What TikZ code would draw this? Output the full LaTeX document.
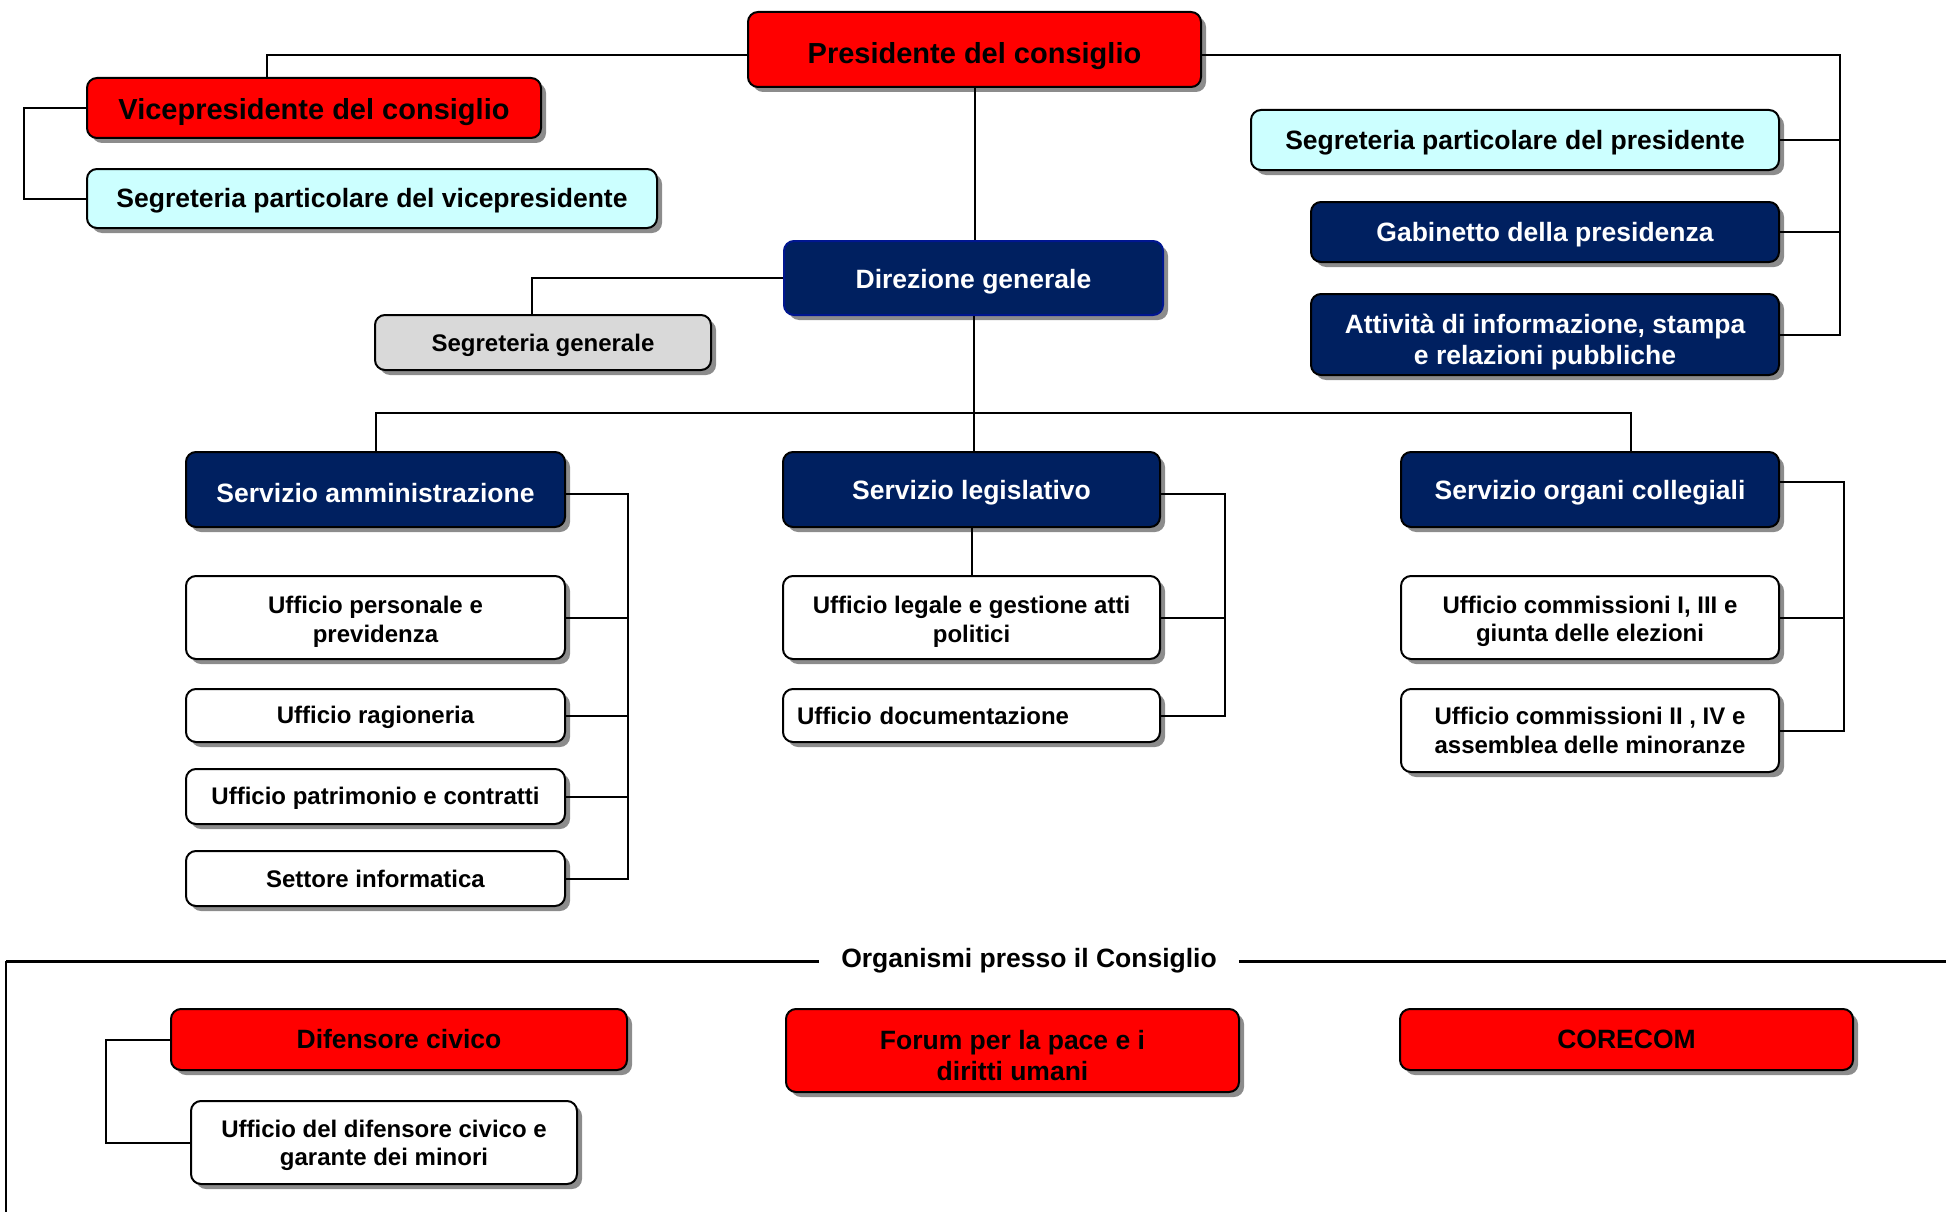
\documentclass[tikz,border=0pt]{standalone}
\usepackage{fontspec}
\setmainfont{Liberation Sans}
\usetikzlibrary{shadows, calc}
\definecolor{CRed}{HTML}{FF0000}
\definecolor{CNavy}{HTML}{002060}
\definecolor{CCyan}{HTML}{CCFFFF}
\definecolor{CGray}{HTML}{D9D9D9}

\tikzset{
  unit/.style={draw=black, line width=2pt, rounded corners=10pt, align=center, inner sep=0pt,
    fill=white, font=\bfseries\fontsize{24}{28.5}\selectfont,
    drop shadow={shadow xshift=5pt, shadow yshift=-5pt, fill=black!45, opacity=1}},
  redunit/.style={unit, fill=CRed},
  navyunit/.style={unit, fill=CNavy, text=white},
  cyanunit/.style={unit, fill=CCyan},
  grayunit/.style={unit, fill=CGray},
  bigtext/.style={font=\bfseries\fontsize{29}{34}\selectfont},
  midtext/.style={font=\bfseries\fontsize{26.5}{31}\selectfont},
  lowered/.style={execute at begin node={\rule{0pt}{#1}}},
  lowered/.default=1.0em,
  wh/.style 2 args={minimum width=#1pt, minimum height=#2pt},
  link/.style={line width=2pt, black}
}

\begin{document}
\begin{tikzpicture}[x=1pt, y=-1pt]
    \useasboundingbox (0,0) rectangle (1946,1212);

    % Vertice
    \node[redunit, bigtext, lowered=1.15em, wh={453}{75}] (pres) at (974.5,49.5) {Presidente del consiglio};
    \node[redunit, bigtext, lowered, wh={454}{60}] (vice) at (314,108) {Vicepresidente del consiglio};
    \node[cyanunit, midtext, lowered=0.9em, wh={570}{59}] (segvice) at (372,198.5) {Segreteria particolare del vicepresidente};

    % Staff del presidente
    \node[cyanunit, midtext, lowered=0.9em, wh={528}{60}] (segpres) at (1515,140) {Segreteria particolare del presidente};
    \node[navyunit, midtext, lowered=0.9em, wh={468}{60}] (gab) at (1545,232) {Gabinetto della presidenza};
    \node[navyunit, midtext, lowered=65pt, wh={468}{81}] (attiv) at (1545,334.5) {Attività di informazione, stampa\\e relazioni pubbliche};

    % Direzione
    \node[navyunit, midtext, lowered, draw=CNavy!70!blue, wh={379}{74}] (dir) at (973.5,278) {Direzione generale};
    \node[grayunit, lowered, wh={336}{55}] (seggen) at (543,342.5) {Segreteria generale};

    % Servizi
    \node[navyunit, midtext, lowered, wh={379}{75}] (amm) at (375.5,489.5) {Servizio amministrazione};
    \node[navyunit, midtext, lowered, wh={377}{75}] (leg) at (971.5,489.5) {Servizio legislativo};
    \node[navyunit, midtext, lowered, wh={378}{75}] (org) at (1590,489.5) {Servizio organi collegiali};

    % Uffici amministrazione
    \node[unit, lowered=54pt, wh={379}{83}] (pers) at (375.5,617.5) {Ufficio personale e\\previdenza};
    \node[unit, lowered=0.9em, wh={379}{53}] (rag) at (375.5,715.5) {Ufficio ragioneria};
    \node[unit, lowered=0.9em, wh={379}{55}] (patr) at (375.5,796.5) {Ufficio patrimonio e contratti};
    \node[unit, wh={379}{55}] (info) at (375.5,878.5) {Settore informatica};

    % Uffici legislativo
    \node[unit, lowered=54pt, wh={377}{83}] (legale) at (971.5,617.5) {Ufficio legale e gestione atti\\politici};
    \node[unit, wh={377}{53}, text width=349pt, align=left] (doc) at (971.5,715.5) {Ufficio documentazione};

    % Uffici organi collegiali
    \node[unit, lowered=54pt, wh={378}{83}] (comm1) at (1590,617.5) {Ufficio commissioni I, III e\\giunta delle elezioni};
    \node[unit, wh={378}{83}] (comm2) at (1590,730.5) {Ufficio commissioni II , IV e\\assemblea delle minoranze};

    % Organismi
    \node[midtext, inner ysep=0pt, inner xsep=22pt] (organismi) at (1029,960.5) {Organismi presso il Consiglio};
    \node[redunit, midtext, wh={456}{61}] (dif) at (399,1039.5) {Difensore civico};
    \node[unit, lowered=52pt, wh={386}{83}] (uffdif) at (384,1142.5) {Ufficio del difensore civico e\\garante dei minori};
    \node[redunit, midtext, lowered=60pt, wh={453}{83}] (forum) at (1012.5,1050.5) {Forum per la pace e i\\diritti umani};
    \node[redunit, midtext, wh={453}{61}] (corecom) at (1626.5,1039.5) {CORECOM};

    % Collegamenti vertice
    \draw[link] ([yshift=-6pt]pres.west) -| ([xshift=-47pt]vice.north);
    \draw[link] (vice.west) -- ++(-62,0) |- (segvice.west);
    \coordinate (rbus) at ([xshift=60pt]attiv.east);
    \draw[link] ([yshift=-6pt]pres.east) -| (rbus) -- (attiv.east);
    \foreach \n in {segpres, gab}
        \draw[link] (\n.east) -- (\n.east -| rbus);

    % Collegamenti direzione
    \draw[link] (pres.south) -- (pres.south |- dir.north);
    \draw[link] (dir.west) -| ([xshift=-11pt]seggen.north);
    \coordinate (hbus) at ([yshift=-97pt]dir.south);
    \draw[link] (dir.south) -- (dir.south |- leg.north);
    \draw[link] (amm.north) |- (hbus) -| ([xshift=41pt]org.north);

    % Collegamenti servizi
    \coordinate (ammbus) at ([xshift=62pt]amm.east);
    \draw[link] ([yshift=-4pt]amm.east) -- ([yshift=-4pt]ammbus) |- (info.east);
    \foreach \n in {pers, rag, patr}
        \draw[link] (\n.east) -- (\n.east -| ammbus);
    \draw[link] (leg.south) -- (legale.north);
    \coordinate (legbus) at ([xshift=64pt]leg.east);
    \draw[link] ([yshift=-4pt]leg.east) -- ([yshift=-4pt]legbus) |- (doc.east);
    \draw[link] (legale.east) -- (legale.east -| legbus);
    \coordinate (orgbus) at ([xshift=64pt]org.east);
    \draw[link] ([yshift=8pt]org.east) -- ([yshift=8pt]orgbus) |- (comm2.east);
    \draw[link] (comm1.east) -- (comm1.east -| orgbus);

    % Organismi presso il Consiglio
    \coordinate (lcorner) at (6,961);
    \coordinate (lfoot) at (6,1212);
    \coordinate (rend) at (1946,961);
    \draw[link, line width=3pt] (organismi.west |- lcorner) -- (lcorner);
    \draw[link, line width=3pt] (organismi.east |- rend) -- (rend);
    \draw[link, line width=1.5pt] (lcorner) -- (lfoot);
    \draw[link] (dif.west) -- ++(-64,0) |- (uffdif.west);
\end{tikzpicture}
\end{document}
